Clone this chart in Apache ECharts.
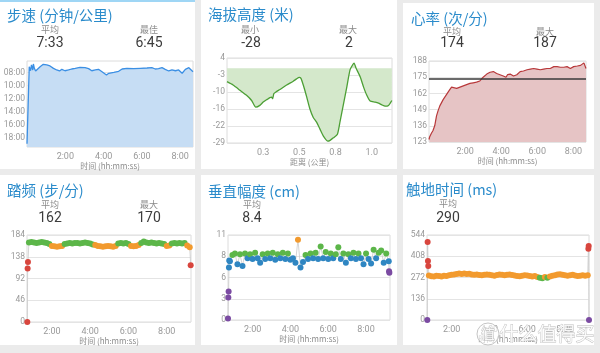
<!DOCTYPE html>
<html>
<head>
<meta charset="utf-8">
<title>跑步动态</title>
<script src="https://cdn.jsdelivr.net/npm/echarts@6.0.0/dist/echarts.min.js"></script>
<style>
  html, body { margin: 0; padding: 0; background: #ebebeb; }
  #wrap { position: relative; width: 600px; height: 353px; overflow: hidden; background: #ebebeb; }
  .panel { position: absolute; background: #fff; box-sizing: border-box; }
  #chart { position: absolute; left: 0; top: 0; width: 600px; height: 353px; }
</style>
</head>
<body>
<div id="wrap">
  <div class="panel" style="left:0;top:0;width:195px;height:169px;border-top:2px solid #9fd6f5"></div>
  <div class="panel" style="left:201px;top:0;width:196px;height:169px"></div>
  <div class="panel" style="left:403px;top:3px;width:191px;height:166px"></div>
  <div class="panel" style="left:0;top:175px;width:195px;height:170px"></div>
  <div class="panel" style="left:201px;top:175px;width:196px;height:170px"></div>
  <div class="panel" style="left:403px;top:175px;width:191px;height:170px"></div>
  <div id="chart"></div>
</div>
<script>
// ---------- 数据 ----------

// 步速 (秒/公里) 随时间 (秒)
const paceTimes = [0, 5, 7, 9, 11, 14, 18, 20, 23, 27, 33, 41, 51, 62, 72, 83, 93, 102, 109, 119,
  130, 140, 151, 166, 182, 193, 203, 214, 224, 235, 240, 249, 256, 272, 287, 298, 313, 334, 355, 376,
  391, 402, 412, 423, 433, 444, 454, 465, 475, 486, 496, 507, 512, 520];
const paceValues = [1130, 1125, 427, 420, 464, 411, 457, 402, 442, 466, 457, 427, 405, 411, 420, 442, 457, 466, 451, 464,
  457, 448, 442, 433, 436, 445, 464, 457, 451, 473, 487, 503, 487, 478, 469, 448, 442, 445, 442, 439,
  436, 448, 445, 436, 451, 466, 457, 464, 457, 487, 451, 436, 448, 473];
const paceTicks = [480, 600, 720, 840, 960, 1080];
const paceTickLabels = ['08:00', '10:00', '12:00', '14:00', '16:00', '18:00'];
const paceStats = ['7:33', '6:45'];

// 海拔 (米) 随距离 (公里)
const altDist = [0.0, 0.042, 0.089, 0.135, 0.170, 0.199, 0.227, 0.25, 0.273, 0.285, 0.296, 0.308, 0.315, 0.324, 0.338,
  0.366, 0.412, 0.458, 0.481, 0.499, 0.511, 0.527, 0.551, 0.573, 0.596, 0.620, 0.643, 0.666, 0.697, 0.712,
  0.735, 0.763, 0.782, 0.805, 0.828, 0.850, 0.869, 0.878, 0.892, 0.920, 0.943, 0.966, 0.989, 1.024, 1.047,
  1.070, 1.093, 1.116, 1.139];
const altValues = [-5.2, -6.5, -8.5, -10.5, -12.5, -15.1, -14.4, -13.1, -12.2, -11.8, -11.4, -11.2, -11.8, -9.8, -9.2,
  -8.2, -6.5, -5.0, -4.1, -3.5, -3.9, -6.5, -11.2, -15.8, -19.1, -21.0, -23.7, -26.3, -28.3, -28.0,
  -27.0, -25.6, -20.4, -13.8, -7.2, -0.6, 1.4, 2.0, 0.0, -3.3, -7.2, -10.5, -12.7, -13.1, -13.5,
  -14.2, -14.7, -14.4, -12.5];
const altTicks = [-29, -22.4, -15.8, -9.2, -2.6, 4];
const altTickLabels = ['-29', '-22', '-16', '-10', '-3', '4'];
const distTicks = [0.25, 0.5, 0.75, 1.0];
const distTickLabels = ['0.3', '0.5', '0.8', '1.0'];
const altStats = ['-28', '2'];

// 心率
const hrTimes = [0, 2, 8, 13, 19, 25, 30, 36, 47, 58, 69, 75, 80, 92, 103, 114, 125, 136, 147, 158,
  169, 175, 180, 192, 203, 214, 225, 236, 247, 256, 261, 270, 281, 292, 303, 314, 326, 337, 348, 359,
  370, 381, 392, 403, 415, 426, 437, 448, 459, 470, 481, 493, 504, 509, 515, 520, 522];
const hrValues = [125, 127, 130, 132, 136, 144, 148, 152, 157, 161, 165, 167, 166, 166, 167, 168, 169, 170, 170.5, 171,
  172, 173, 175, 177.5, 179, 179.5, 178, 177, 176, 175, 177, 177.5, 176, 177, 179.5, 180, 181, 181.5, 182, 181.5,
  181, 181.5, 182, 182, 183.5, 183.5, 183, 183, 183.5, 182, 183.5, 184, 184.5, 186, 186.5, 185.5, 182];
const hrAverage = 174;
const hrTicks = [123, 136, 149, 162, 175, 188];
const hrTickLabels = ['123', '136', '149', '162', '175', '188'];
const hrStats = ['174', '187'];

// 时间轴刻度
const timeTicks = [120, 240, 360, 480];
const timeTickLabels = ['2:00', '4:00', '6:00', '8:00'];

// 跑步动态 采样时间 (秒)
const bandTimes = [48, 56, 64, 72, 80, 88, 96, 104, 112, 120, 128, 136, 144, 152, 160, 168, 176, 184, 192, 200,
  208, 216, 224, 232, 240, 248, 256, 264, 272, 280, 288, 296, 304, 312, 320, 328, 336, 344, 352, 360,
  368, 376, 384, 392, 400, 408, 416, 424, 432, 440, 448, 456, 464, 472, 480, 488, 496, 504, 512, 520,
  528, 536, 544, 552];

// 踏频
const cadenceHead = [[43, 0], [44, 113], [45, 127]];
const cadenceBand = [168, 169, 168, 167, 168, 169, 168, 167, 165, 161,
  160, 159, 160, 161, 165, 166, 167, 166, 167, 167,
  166, 167, 168, 167, 166, 164, 163, 161, 160, 159,
  160, 161, 160, 159, 161, 166, 167, 166, 167, 165,
  161, 160, 161, 163, 167, 170, 168, 167, 168, 167,
  166, 167, 166, 165, 161, 162, 166, 167, 166, 167,
  166, 167, 162, 158];
const cadenceTail = [[555, 120]];
const cadenceLimits = [153, 164, 174, 184];
const cadenceTicks = [0, 46, 92, 138, 184];
const cadenceTickLabels = ['0', '46', '92', '138', '184'];
const cadenceStats = ['162', '170'];

// 垂直幅度
const vertHead = [[42, 0.2], [43, 2.9], [44, 3.7], [45, 6.8], [46, 7.7]];
const vertBand = [7.6, 8.4, 8.6, 7.2, 8.5, 7.0, 8.6, 8.0, 8.5, 7.9,
  8.7, 8.0, 7.4, 8.5, 7.9, 8.6, 8.0, 8.7, 7.8, 8.5,
  8.0, 8.7, 7.9, 8.6, 7.8, 8.0, 7.4, 10.4, 6.8, 7.5,
  8.4, 7.9, 8.6, 8.0, 8.7, 7.9, 9.5, 8.0, 8.8, 7.9,
  8.6, 8.0, 8.5, 9.4, 7.9, 8.6, 7.4, 8.5, 8.0, 8.7,
  7.9, 8.6, 8.0, 7.2, 8.6, 7.9, 7.3, 9.1, 8.0, 8.7,
  9.0, 7.4, 8.6, 7.6];
const vertTail = [[553, 6.3], [554, 6.1]];
const vertLimits = [6.4, 8.2, 9.8, 11.5];
const vertTicks = [0, 2.75, 5.5, 8.25, 11];
const vertTickLabels = ['0', '3', '6', '8', '11'];
const vertStats = ['8.4'];

// 触地时间
const gctHead = [[43, 0], [44, 500], [45, 378], [46, 346]];
const gctBand = [285, 280, 278, 283, 281, 279, 284, 282, 286, 289,
  292, 295, 297, 295, 298, 294, 296, 292, 289, 291,
  288, 286, 289, 292, 290, 287, 284, 288, 291, 289,
  286, 289, 292, 288, 285, 282, 280, 284, 287, 285,
  282, 279, 281, 276, 270, 268, 275, 271, 278, 283,
  287, 291, 293, 289, 286, 283, 286, 289, 285, 282,
  284, 287, 283, 286];
const gctTail = [[554, 456], [555, 474], [556, 0]];
const gctLimits = [208, 241, 273, 306];
const gctTicks = [0, 136, 272, 408, 544];
const gctTickLabels = ['0', '136', '272', '408', '544'];
const gctStats = ['290'];

// ---------- 样式 ----------
const FONT = 'Roboto, "Noto Sans CJK SC", sans-serif';
const CJK = '"Noto Sans CJK SC", Roboto, sans-serif';
const zoneUp = ['#d8453d', '#f29a2e', '#5cb649', '#2f86c2', '#7b4ba2'];   // 踏频: 低→高
const zoneDown = ['#7b4ba2', '#2f86c2', '#5cb649', '#f29a2e', '#d8453d']; // 幅度/触地: 低→高

function pick(ticks, labels) {
  return v => {
    let best = 0;
    ticks.forEach((t, i) => { if (Math.abs(t - v) < Math.abs(ticks[best] - v)) best = i; });
    return labels[best];
  };
}

function zoneColor(v, limits, colors) {
  let i = 0;
  while (i < limits.length && v >= limits[i]) i++;
  return colors[i];
}

function pairs(xs, ys) { return xs.map((x, i) => [x, ys[i]]); }

function makeX(gi, min, max, ticks, labels, name, gap) {
  return {
    type: 'value', gridIndex: gi, min, max,
    name, nameLocation: 'middle', nameGap: gap,
    nameTextStyle: { color: '#8c8c8c', fontSize: 8, fontFamily: CJK },
    axisLine: { show: false }, axisTick: { show: false, customValues: ticks },
    axisLabel: { customValues: ticks, formatter: pick(ticks, labels), color: '#999', fontSize: 9, margin: 5, fontFamily: FONT },
    splitLine: { show: false }
  };
}

function makeY(gi, min, max, ticks, labels, inverse) {
  return {
    type: 'value', gridIndex: gi, min, max, inverse: !!inverse,
    axisLine: { show: false }, axisTick: { show: false, customValues: ticks },
    axisLabel: { customValues: ticks, formatter: pick(ticks, labels), color: '#999', fontSize: 8.5, margin: 2, padding: [0, 0, 5, 0], fontFamily: FONT },
    splitLine: { show: true, lineStyle: { color: '#e4e4e4', width: 1 } }
  };
}

function dots(gi, head, band, tail, limits, colors) {
  const pts = head.concat(pairs(bandTimes, band), tail);
  return [
    { type: 'line', xAxisIndex: gi, yAxisIndex: gi, data: pts, showSymbol: false, silent: true,
      lineStyle: { color: '#cacaca', width: 0.8 }, z: 2 },
    { type: 'scatter', xAxisIndex: gi, yAxisIndex: gi, data: pts, symbolSize: 6, silent: true,
      itemStyle: { color: p => zoneColor(p.value[1], limits, colors), opacity: 1 }, z: 3 }
  ];
}

function title(x, y, text) {
  return { type: 'text', x, y, z: 10, style: { text, fontSize: 14.5, fill: '#2a8bcb', fontFamily: CJK, align: 'left', verticalAlign: 'middle' } };
}
function caption(x, y, text) {
  return { type: 'text', x, y, z: 10, style: { text, fontSize: 9, fill: '#8a8a8a', fontFamily: CJK, align: 'center', verticalAlign: 'middle' } };
}
function big(x, y, text) {
  return { type: 'text', x, y, z: 10, style: { text, fontSize: 14, fill: '#3c3c3c', fontFamily: FONT, align: 'center', verticalAlign: 'middle' } };
}

const timeName = '时间 (hh:mm:ss)';
const fmtTime = timeTickLabels;

const chart = echarts.init(document.getElementById('chart'), null, { renderer: 'canvas' });

const grids = [
  { left: 27, top: 61, width: 166, height: 86 },
  { left: 227, top: 58, width: 165, height: 85 },
  { left: 429, top: 61, width: 157, height: 81 },
  { left: 27, top: 235, width: 164, height: 87 },
  { left: 228, top: 235, width: 162, height: 85 },
  { left: 427, top: 235, width: 162, height: 85 }
].map(g => Object.assign(g, { show: true, borderColor: '#dcdcdc', borderWidth: 1, backgroundColor: 'transparent' }));

chart.setOption({
  animation: false,
  backgroundColor: 'transparent',
  grid: grids,
  xAxis: [
    makeX(0, 0, 520, timeTicks, fmtTime, timeName, 13),
    makeX(1, 0, 1.14, distTicks, distTickLabels, '距离 (公里)', 13),
    makeX(2, 0, 522, timeTicks, fmtTime, timeName, 11),
    makeX(3, 42, 556, timeTicks, fmtTime, timeName, 12),
    makeX(4, 42, 556, timeTicks, fmtTime, timeName, 11.5),
    makeX(5, 42, 556, timeTicks, fmtTime, timeName, 11.5)
  ],
  yAxis: [
    makeY(0, 375, 1160, paceTicks, paceTickLabels, true),
    makeY(1, -29, 4, altTicks, altTickLabels),
    makeY(2, 123, 188, hrTicks, hrTickLabels),
    makeY(3, 0, 184, cadenceTicks, cadenceTickLabels),
    makeY(4, 0, 11, vertTicks, vertTickLabels),
    makeY(5, 0, 544, gctTicks, gctTickLabels)
  ],
  series: [
    { type: 'line', xAxisIndex: 0, yAxisIndex: 0, data: pairs(paceTimes, paceValues), showSymbol: false, silent: true,
      lineStyle: { color: '#3b8fe4', width: 1.3 }, areaStyle: { color: '#c6ddf4', opacity: 1, origin: 'end' } },
    { type: 'line', xAxisIndex: 1, yAxisIndex: 1, data: pairs(altDist, altValues), showSymbol: false, silent: true, smooth: 0.2,
      lineStyle: { color: '#4c9f35', width: 1.3 }, areaStyle: { color: '#d4e8cb', opacity: 1, origin: 0 } },
    { type: 'line', xAxisIndex: 2, yAxisIndex: 2, data: pairs(hrTimes, hrValues), showSymbol: false, silent: true,
      lineStyle: { color: '#b8393b', width: 1.2 }, areaStyle: { color: '#e6c4c5', opacity: 1, origin: 'start' },
      markLine: { silent: true, symbol: 'none', label: { show: false }, lineStyle: { color: '#3a3a3a', width: 1.5, type: 'solid' },
        data: [{ yAxis: hrAverage }] } },
    ...dots(3, cadenceHead, cadenceBand, cadenceTail, cadenceLimits, zoneUp),
    ...dots(4, vertHead, vertBand, vertTail, vertLimits, zoneDown),
    ...dots(5, gctHead, gctBand, gctTail, gctLimits, zoneDown)
  ],
  graphic: [
    title(7, 15, '步速 (分钟/公里)'),
    caption(50, 30, '平均'), big(50, 43, paceStats[0]),
    caption(149, 30, '最佳'), big(149, 43, paceStats[1]),

    title(208, 14, '海拔高度 (米)'),
    caption(250, 30, '最小'), big(251, 43, altStats[0]),
    caption(348, 30, '最大'), big(349, 43, altStats[1]),

    title(411, 18, '心率 (次/分)'),
    caption(452, 31.5, '平均'), big(452, 43.5, hrStats[0]),
    caption(545, 31.5, '最大'), big(545, 43.5, hrStats[1]),

    title(7, 190, '踏频 (步/分)'),
    caption(50, 205, '平均'), big(50, 218, cadenceStats[0]),
    caption(149, 205, '最大'), big(149, 218, cadenceStats[1]),

    title(208, 191, '垂直幅度 (cm)'),
    caption(252, 205, '平均'), big(252, 218, vertStats[0]),

    title(406, 189, '触地时间 (ms)'),
    caption(448, 204, '平均'), big(448, 218, gctStats[0]),

    // 水印
    { type: 'circle', z: 20, shape: { cx: 488, cy: 334, r: 11 }, style: { fill: 'rgba(255,255,255,0.6)', stroke: '#c4c4c4', lineWidth: 1 } },
    { type: 'text', x: 488, y: 334, z: 21, style: { text: '值', fontSize: 14, fill: 'rgba(255,255,255,0.9)', stroke: '#b8b8b8', lineWidth: 0.8, fontFamily: CJK, align: 'center', verticalAlign: 'middle' } },
    { type: 'text', x: 547, y: 334, z: 21, style: { text: '什么值得买', fontSize: 19, fill: 'rgba(255,255,255,0.85)', stroke: '#bdbdbd', lineWidth: 0.8, fontFamily: CJK, align: 'center', verticalAlign: 'middle' } }
  ]
});
</script>
</body>
</html>
